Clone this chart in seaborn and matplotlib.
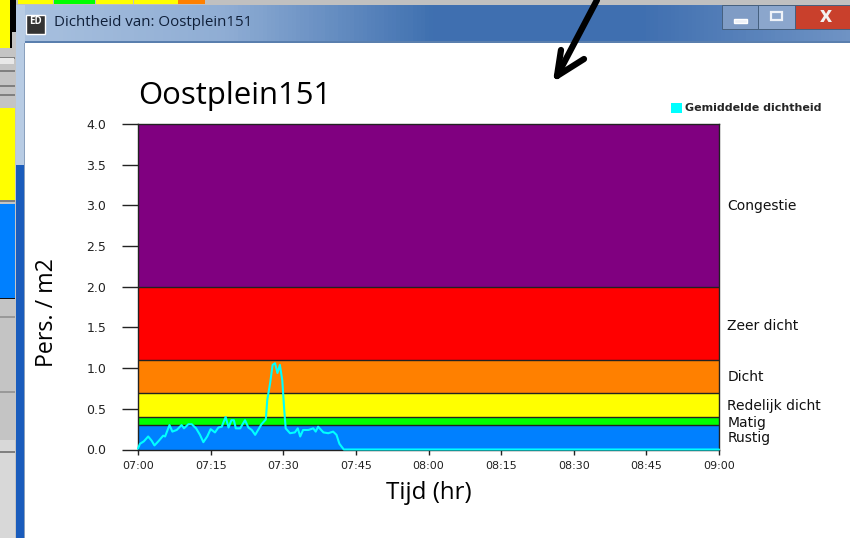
import matplotlib
matplotlib.use("Agg")
import matplotlib.pyplot as plt
from matplotlib.patches import Rectangle
from matplotlib.colors import LinearSegmentedColormap
import numpy as np
import pandas as pd
import seaborn as sns

minutes = [0, 0.4, 1.2, 2.1, 2.8, 3.4, 4.2, 5.2, 5.6, 6.5, 7.1, 8.0, 9.0, 9.5, 10.4, 11.1, 12.0, 12.8, 13.5,
           14.3, 15.0, 15.9, 16.6, 17.3, 18.1, 18.7, 19.3, 19.8, 20.2, 21.1, 22.1, 22.8, 23.5, 24.2, 24.8,
           25.5, 26.4, 26.7, 27.3, 27.8, 28.3, 28.8, 29.3, 29.8, 30.2, 30.5, 31.4, 32.4, 33.0, 33.5, 34.1,
           35.2, 36.2, 36.7, 37.2, 38.3, 39.3, 40.3, 41.0, 41.6, 42.5, 120]
density = [0.01, 0.07, 0.10, 0.16, 0.11, 0.05, 0.10, 0.17, 0.16, 0.30, 0.22, 0.24, 0.30, 0.26, 0.31, 0.31, 0.26,
           0.18, 0.09, 0.16, 0.25, 0.21, 0.27, 0.28, 0.40, 0.27, 0.36, 0.36, 0.26, 0.26, 0.36, 0.27, 0.24, 0.18,
           0.24, 0.31, 0.37, 0.61, 0.82, 1.04, 1.06, 0.94, 1.04, 0.85, 0.49, 0.26, 0.20, 0.21, 0.26, 0.16, 0.24,
           0.24, 0.26, 0.22, 0.28, 0.21, 0.20, 0.22, 0.18, 0.07, 0.0, 0.0]
band_names = ["Rustig", "Matig", "Redelijk dicht", "Dicht", "Zeer dicht", "Congestie"]
band_low = [0.0, 0.3, 0.4, 0.7, 1.1, 2.0]
band_high = [0.3, 0.4, 0.7, 1.1, 2.0, 4.0]
band_colors = ["#0080ff", "#00ff00", "#ffff00", "#ff8000", "#ff0000", "#800080"]
band_label_y = [0.14, 0.33, 0.53, 0.89, 1.52, 2.99]
x_ticks = [0, 15, 30, 45, 60, 75, 90, 105, 120]
x_labels = ["07:00", "07:15", "07:30", "07:45", "08:00", "08:15", "08:30", "08:45", "09:00"]
y_ticks = [0.0, 0.5, 1.0, 1.5, 2.0, 2.5, 3.0, 3.5, 4.0]

sns.set_theme(style="white")
plt.rcParams["font.family"] = ["Open Sans", "DejaVu Sans"]
W, H = 850, 538
fig = plt.figure(figsize=(W / 100, H / 100), dpi=100, facecolor="#c4c4c4")

# window chrome, in pixel coordinates
bg = fig.add_axes([0, 0, 1, 1], zorder=0)
bg.set_xlim(0, W); bg.set_ylim(H, 0); bg.axis("off")
def rect(x, y, w, h, c):
    bg.add_patch(Rectangle((x, y), w, h, facecolor=c, edgecolor="none", lw=0))
rect(0, 0, 10, 48, "#ffff00")
rect(10, 0, 2, 48, "#000000")
rect(12, 0, 4, 32, "#000000")
rect(0, 108, 15, 92, "#ffff00")
rect(0, 204, 15, 94, "#0080ff")
rect(0, 298, 15, 1.2, "#111111")
rect(0, 440, 15, 98, "#d8d8d8")
for y, c in [(57, "#808080"), (70, "#808080"), (85, "#808080"), (94, "#808080"), (200, "#808080"),
             (316, "#999999"), (391, "#999999"), (451, "#808080")]:
    rect(0, y, 15, 1.5, c)
rect(0, 58, 14, 6, "#e8e8e8")
rect(16, 0, 834, 5, "#c0c0c0")
for x0, x1, c in [(18, 53, "#ffff00"), (54, 95, "#00ff00"), (96, 133, "#ffff00"), (134, 178, "#ffff00"), (178, 205, "#ff8000")]:
    rect(x0, 0, x1 - x0, 4, c)
grad = np.linspace(0, 1, 200).reshape(1, -1)
cm = LinearSegmentedColormap.from_list("t", ["#a9c1df", "#8fadd4", "#3f70b0", "#3f6fb0", "#6f93c4"])
bg.imshow(grad, extent=(17, 850, 43, 5), aspect="auto", cmap=cm, zorder=1)
bg.set_xlim(0, W); bg.set_ylim(H, 0)
rect(16, 5, 9, 533, "#1a5cbc")
rect(16, 5, 9, 160, "#b8cce4")
rect(25, 43, 825, 495, "white")
rect(25, 41, 825, 2, "#5a7fae")
rect(24, 43, 1.5, 495, "#8aa0bd")
# title bar content
bg.add_patch(Rectangle((26, 15), 19, 19, facecolor="#333333", zorder=3))
bg.text(35.5, 21, "ED", color="white", fontsize=7, fontweight="bold", ha="center", va="center", zorder=4)
bg.text(54, 23, "Dichtheid van: Oostplein151", fontsize=10.9, color="#10203a", va="center", zorder=4)
bg.add_patch(Rectangle((722, 5), 36, 24, facecolor="#7f9cc5", edgecolor="#45607f", lw=0.7, zorder=3))
bg.add_patch(Rectangle((758, 5), 37, 24, facecolor="#8ba6cc", edgecolor="#45607f", lw=0.7, zorder=3))
bg.add_patch(Rectangle((795, 5), 55, 24, facecolor="#c9402c", edgecolor="#45607f", lw=0.7, zorder=3))
bg.add_patch(Rectangle((734, 19), 13, 4, facecolor="#eef2f8", zorder=4))
bg.add_patch(Rectangle((771, 12), 11, 8, facecolor="none", edgecolor="#eef2f8", lw=1.6, zorder=4))
bg.text(826, 17, "x", color="#f2f2f2", fontsize=15, fontweight="bold", ha="center", va="center", zorder=4)
# arrow
bg.plot([597, 557], [0, 76], color="black", lw=4.5, solid_capstyle="round", zorder=5)
bg.plot([557, 584], [76, 59], color="black", lw=4.5, solid_capstyle="round", zorder=5)
bg.plot([557, 561], [76, 50], color="black", lw=4.5, solid_capstyle="round", zorder=5)

L, R, T, B = 138, 719, 124, 449.5
ax = fig.add_axes([L / W, 1 - B / H, (R - L) / W, (B - T) / H], zorder=2)
ax.set_xlim(0, 120); ax.set_ylim(0, 4)
for lo, hi, c in zip(band_low, band_high, band_colors):
    ax.axhspan(lo, hi, facecolor=c, edgecolor="none", zorder=1)
for v in band_high[:-1]:
    ax.axhline(v, color="#222222", lw=1, zorder=2)
df = pd.DataFrame({"minuut": minutes, "dichtheid": density})
sns.lineplot(data=df, x="minuut", y="dichtheid", color="#00ffff", lw=1.5, ax=ax, zorder=3, clip_on=False, errorbar=None)
ax.set_xticks(x_ticks, x_labels)
ax.set_yticks(y_ticks, [f"{v:.1f}" for v in y_ticks])
ax.tick_params(axis="y", left=True, length=11.5, width=1, color="#222222", labelsize=9, labelcolor="#222222",
               pad=11.5, labelfontfamily="DejaVu Sans")
ax.tick_params(axis="x", bottom=True, length=3.5, width=1, color="#222222", labelsize=8, labelcolor="#222222",
               pad=5, labelfontfamily="DejaVu Sans")
for s in ax.spines.values():
    s.set_linewidth(1); s.set_color("#222222")
ax.set_xlabel("Tijd (hr)", fontsize=17.4, color="black", labelpad=7)
ax.set_ylabel("Pers. / m2", fontsize=16.7, color="black", va="center")
ax.yaxis.set_label_coords(-0.157, 0.42)
ax.set_title("Oostplein151", fontsize=22.4, color="black", loc="left", pad=14.5)
for name, y in zip(band_names, band_label_y):
    ax.annotate(name, xy=(1, y), xycoords=("axes fraction", "data"), xytext=(6, 0), textcoords="offset points",
                fontsize=10, color="#111111", va="center", ha="left", annotation_clip=False, family="DejaVu Sans")
# legend
handle = Rectangle((0, 0), 1, 1, facecolor="#00ffff", edgecolor="none")
fig.legend([handle], ["Gemiddelde dichtheid"], loc="center left", bbox_to_anchor=(671 / W, 1 - 108 / H),
           frameon=False, handlelength=1.0, handleheight=1.05, handletextpad=0.25, borderpad=0, borderaxespad=0,
           prop={"size": 8, "weight": "bold", "family": "DejaVu Sans"})
fig.savefig("out.png", dpi=100, facecolor=fig.get_facecolor())
